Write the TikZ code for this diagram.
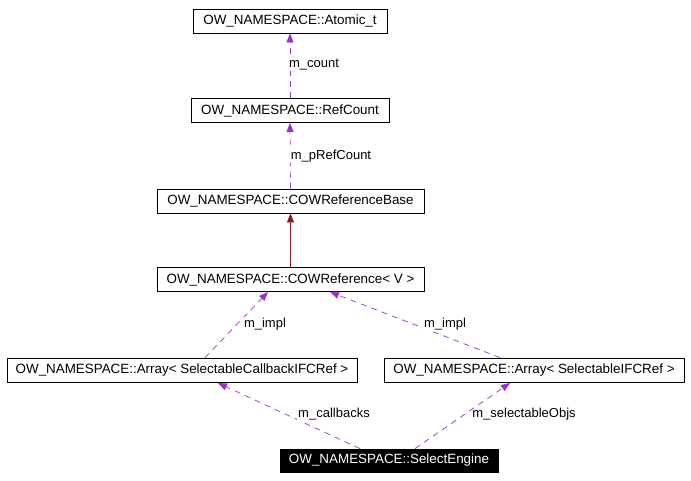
\documentclass[tikz,border=0pt]{standalone}
\usepackage{fontspec}
\setmainfont{Liberation Sans}
\usetikzlibrary{arrows.meta}
\begin{document}
\begin{tikzpicture}[x=1pt,y=-1pt,
  box/.style={draw=black,line width=0.8pt,minimum height=24pt,inner xsep=0pt,font=\fontsize{13.4}{15}\selectfont,anchor=center},
  use/.style={draw={rgb,255:red,153;green,50;blue,204},dashed,dash pattern=on 6pt off 5pt,line width=0.7pt,-{Triangle[length=9pt,width=7pt]}},
  inh/.style={draw={rgb,255:red,139;green,26;blue,26},line width=0.7pt,-{Triangle[length=9pt,width=7pt]}},
  lbl/.style={font=\fontsize{13}{15}\selectfont,fill=white,inner sep=1pt}]
\useasboundingbox (0,0) rectangle (691,480);
\node[box,minimum width=194pt] (at) at (290,21) {OW\_NAMESPACE::Atomic\_t};
\node[box,minimum width=198pt] (rc) at (290,110.5) {OW\_NAMESPACE::RefCount};
\node[box,minimum width=267pt] (cb) at (290.5,201) {OW\_NAMESPACE::COWReferenceBase};
\node[box,minimum width=267pt] (cr) at (290.5,279.5) {OW\_NAMESPACE::COWReference< V >};
\node[box,minimum width=350pt] (ac) at (182,370) {OW\_NAMESPACE::Array< SelectableCallbackIFCRef >};
\node[box,minimum width=300pt] (as) at (534,370) {OW\_NAMESPACE::Array< SelectableIFCRef >};
\node[box,minimum width=218pt,fill=black,text=white,minimum height=23pt] (se) at (389,460.5) {OW\_NAMESPACE::SelectEngine};
\draw[use] (rc.north) -- (at.south);
\draw[use] (cb.north) -- (rc.south);
\draw[inh] (cr.north) -- (cb.south);
\draw[use] (ac.north -| 205,0) -- (268,292);
\draw[use] (as.north -| 500,0) -- (330,292);
\draw[use] (se.north -| 360,0) -- (218,383);
\draw[use] (se.north -| 415,0) -- (510,383);
\node[lbl] (l1) at (314,65) {m\_count};
\node[lbl] (l2) at (331,156) {m\_pRefCount};
\node[lbl] (l3) at (265,324) {m\_impl};
\node[lbl] (l4) at (445,324) {m\_impl};
\node[lbl] (l5) at (334,414) {m\_callbacks};
\node[lbl,fill=none] (l6) at (524,414) {m\_selectableObjs};
\end{tikzpicture}
\end{document}
